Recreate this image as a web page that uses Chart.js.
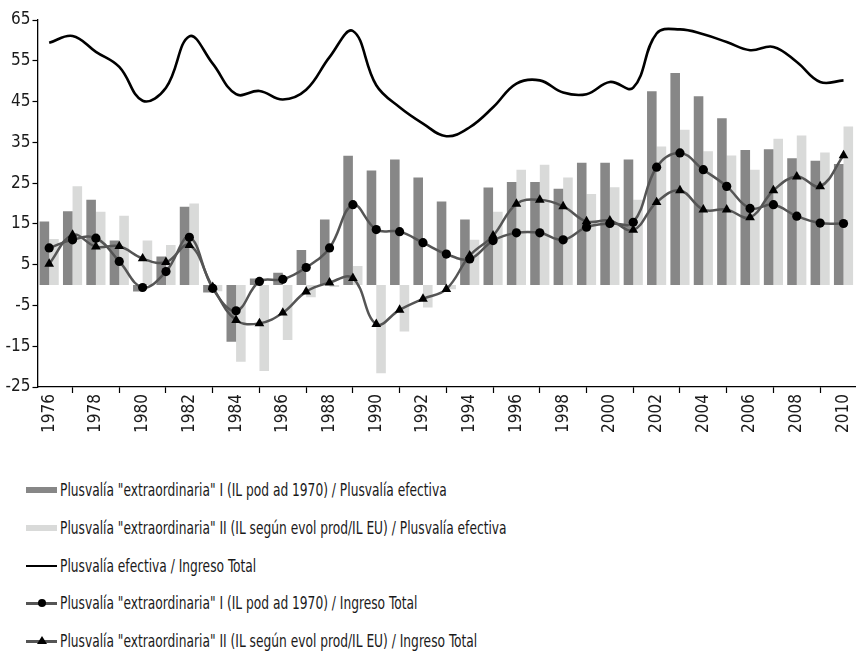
<!DOCTYPE html>
<html>
<head>
<meta charset="utf-8">
<script src="https://cdn.jsdelivr.net/npm/chart.js@4"></script>
<style>
  html, body { margin: 0; padding: 0; background: #fff; }
  #wrap { position: relative; width: 865px; height: 653px; overflow: hidden; }
  #c { position: absolute; left: 0; top: 0; }
  #legend { position: absolute; left: 0; top: 471px; width: 865px;
    font-family: 'DejaVu Sans Condensed', 'DejaVu Sans', sans-serif; font-stretch: condensed;
    font-size: 17px; color: #1a1a1a; }
  .row { position: absolute; left: 0; height: 38px; display: flex; align-items: center; white-space: nowrap; }
  .row span { display: inline-block; transform: scaleX(0.80); transform-origin: 0 50%; }
  .sw { position: relative; width: 31px; height: 14px; margin-left: 26px; margin-right: 3px; }
  .bar { position: absolute; left: 0; top: 4px; width: 31px; height: 6px; }
  .ln { position: absolute; left: 0; top: 6px; width: 31px; height: 2.5px; }
  .dot { position: absolute; left: 11.5px; top: 3px; width: 8px; height: 8px; border-radius: 50%; background: #000; }
  .tri { position: absolute; left: 10.5px; top: 2px; width: 0; height: 0;
    border-left: 5px solid transparent; border-right: 5px solid transparent; border-bottom: 8px solid #000; }
</style>
</head>
<body>
<div id="wrap">
  <canvas id="c" width="865" height="440"></canvas>
  <div id="legend"></div>
</div>
<script>
// ---- data ----
const years = ["1976","1977","1978","1979","1980","1981","1982","1983","1984","1985",
  "1986","1987","1988","1989","1990","1991","1992","1993","1994","1995",
  "1996","1997","1998","1999","2000","2001","2002","2003","2004","2005",
  "2006","2007","2008","2009","2010"];

const extraI_pe = [15.6, 18.1, 20.9, 10.9, -1.6, 7.0, 19.2, -1.8, -13.9, 1.6,
  3.0, 8.6, 16.1, 31.7, 28.1, 30.8, 26.4, 20.5, 16.1, 23.9,
  25.3, 25.3, 23.6, 30.0, 30.0, 30.8, 47.5, 52.0, 46.3, 40.9,
  33.1, 33.3, 31.1, 30.5, 29.7];

const extraII_pe = [11.3, 24.2, 18.0, 17.0, 10.9, 9.8, 20.0, -1.5, -18.8, -21.1,
  -13.5, -3.0, -0.5, 4.7, -21.6, -11.4, -5.5, -1.0, 11.1, 18.0,
  28.3, 29.5, 26.4, 22.3, 24.0, 20.9, 34.0, 38.1, 32.8, 31.8,
  28.3, 35.9, 36.7, 32.5, 38.9];

const efectiva_it = [59.4, 61.1, 57.2, 53.5, 45.2, 48.4, 61.0, 54.3, 46.8, 47.6,
  45.5, 47.9, 55.9, 62.3, 49.0, 43.6, 39.6, 36.5, 38.7, 43.6,
  49.4, 50.2, 47.2, 46.8, 49.8, 48.4, 61.7, 62.7, 61.5, 59.6,
  57.6, 58.4, 54.7, 49.8, 50.2];

const extraI_it = [9.1, 11.1, 11.5, 5.8, -0.6, 3.3, 11.7, -0.8, -6.3, 0.9,
  1.4, 4.3, 9.1, 19.7, 13.6, 13.1, 10.4, 7.6, 6.4, 10.9,
  12.8, 12.8, 11.1, 14.2, 15.1, 15.4, 28.9, 32.4, 28.3, 24.2,
  18.8, 19.7, 16.9, 15.2, 15.1];

const extraII_it = [5.2, 12.3, 9.4, 9.5, 6.5, 5.6, 9.8, -0.5, -8.6, -9.4,
  -6.8, -1.6, 0.6, 1.7, -9.6, -6.1, -3.4, -1.0, 7.2, 12.1,
  19.9, 20.9, 19.3, 15.6, 15.8, 13.5, 20.3, 23.2, 18.5, 18.5,
  16.6, 23.2, 26.6, 24.2, 31.8];

const yTicks = [-25, -15, -5, 5, 15, 25, 35, 45, 55, 65];

const seriesNames = [
  'Plusvalía "extraordinaria" I (IL pod ad 1970) / Plusvalía efectiva',
  'Plusvalía "extraordinaria" II (IL según evol prod/IL EU) / Plusvalía efectiva',
  'Plusvalía efectiva / Ingreso Total',
  'Plusvalía "extraordinaria" I (IL pod ad 1970) / Ingreso Total',
  'Plusvalía "extraordinaria" II (IL según evol prod/IL EU) / Ingreso Total'
];

// ---- chart ----
const FONT = "'DejaVu Sans Condensed', 'DejaVu Sans', sans-serif";
const DARK = '#878787', LIGHT = '#d9dad9', LINEGREY = '#555555';

const chart = new Chart(document.getElementById('c'), {
  type: 'bar',
  data: {
    labels: years,
    datasets: [
      { type: 'bar', label: seriesNames[0], data: extraI_pe, backgroundColor: DARK,
        categoryPercentage: 0.82, barPercentage: 1.0, order: 4 },
      { type: 'bar', label: seriesNames[1], data: extraII_pe, backgroundColor: LIGHT,
        categoryPercentage: 0.82, barPercentage: 1.0, order: 5 },
      { type: 'line', label: seriesNames[2], data: efectiva_it, borderColor: '#000',
        borderWidth: 2.6, pointRadius: 0, tension: 0.4, fill: false, order: 1 },
      { type: 'line', label: seriesNames[3], data: extraI_it, borderColor: LINEGREY,
        borderWidth: 2.5, pointStyle: 'circle', pointRadius: 4.6, pointBackgroundColor: '#000',
        pointBorderColor: '#000', pointBorderWidth: 0, tension: 0.4, fill: false, order: 2 },
      { type: 'line', label: seriesNames[4], data: extraII_it, borderColor: LINEGREY,
        borderWidth: 2.5, pointStyle: 'triangle', pointRadius: 5.6, pointBackgroundColor: '#000',
        pointBorderColor: '#000', pointBorderWidth: 0, tension: 0.4, fill: false, order: 3 }
    ]
  },
  options: {
    responsive: false,
    animation: false,
    devicePixelRatio: 1,
    layout: { padding: { top: 20, right: 0, left: 0, bottom: 0 } },
    plugins: { legend: { display: false }, tooltip: { enabled: false } },
    scales: {
      x: {
        offset: true,
        grid: { offset: true, drawOnChartArea: false, tickLength: 6, color: '#000', tickWidth: 1.2 },
        border: { color: '#000', width: 1.3 },
        ticks: {
          autoSkip: false, maxRotation: 90, minRotation: 90, padding: 1,
          color: '#1a1a1a', font: { family: FONT, size: 17, style: 'condensed' },
          callback: function (v, i) { return (i % 2 === 0) ? years[i] : null; }
        },
        afterFit: s => { s.height = 53; }
      },
      y: {
        min: -25, max: 65,
        afterBuildTicks: s => { s.ticks = yTicks.map(v => ({ value: v })); },
        grid: { drawOnChartArea: false, tickLength: 5, color: '#000', tickWidth: 1.2 },
        border: { color: '#000', width: 1.3 },
        ticks: { color: '#1a1a1a', font: { family: FONT, size: 17, style: 'condensed' }, padding: 2 },
        afterFit: s => { s.width = 37.5; }
      }
    }
  }
});

// ---- HTML legend built from the datasets ----
const legend = document.getElementById('legend');
chart.data.datasets.forEach((ds, i) => {
  const row = document.createElement('div');
  row.className = 'row';
  row.style.top = (i * 37.8) + 'px';
  const sw = document.createElement('div');
  sw.className = 'sw';
  if (ds.type === 'bar') {
    const b = document.createElement('div'); b.className = 'bar'; b.style.background = ds.backgroundColor; sw.appendChild(b);
  } else {
    const l = document.createElement('div'); l.className = 'ln'; l.style.background = ds.borderColor; sw.appendChild(l);
    if (ds.pointStyle === 'circle' && ds.pointRadius) { const d = document.createElement('div'); d.className = 'dot'; sw.appendChild(d); }
    if (ds.pointStyle === 'triangle') { const t = document.createElement('div'); t.className = 'tri'; sw.appendChild(t); }
  }
  const txt = document.createElement('span');
  txt.textContent = ds.label;
  row.appendChild(sw); row.appendChild(txt);
  legend.appendChild(row);
});
</script>
</body>
</html>
